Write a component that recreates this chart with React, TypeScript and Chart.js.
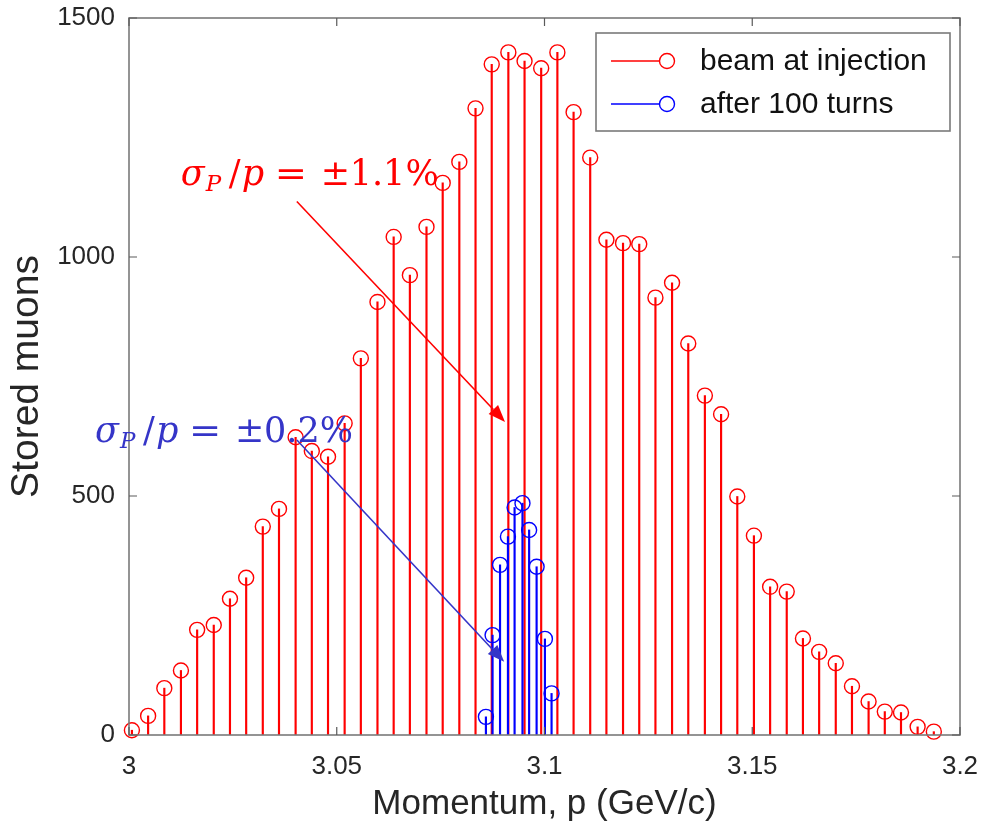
import React, { useEffect, useRef } from 'react';
import { Chart, registerables } from 'chart.js';

Chart.register(...registerables);

// ---- data ----
const momentumInjection = [
  3.0007, 3.0046, 3.0085, 3.0125, 3.0164, 3.0204, 3.0243, 3.0282, 3.0322, 3.0361,
  3.0401, 3.044, 3.0479, 3.0519, 3.0558, 3.0598, 3.0637, 3.0676, 3.0716, 3.0755,
  3.0795, 3.0834, 3.0873, 3.0913, 3.0952, 3.0992, 3.1031, 3.107, 3.111, 3.1149,
  3.1189, 3.1228, 3.1267, 3.1307, 3.1346, 3.1386, 3.1425, 3.1464, 3.1504, 3.1543,
  3.1583, 3.1622, 3.1661, 3.1701, 3.174, 3.178, 3.1819, 3.1858, 3.1898, 3.1937,
];
const countsInjection = [
  10, 40, 98, 135, 220, 230, 285, 329, 436, 473,
  623, 594, 582, 652, 788, 906, 1042, 962, 1063, 1155,
  1199, 1311, 1403, 1428, 1410, 1395, 1428, 1303, 1208, 1036,
  1029, 1027, 915, 946, 819, 710, 671, 499, 417, 310,
  300, 202, 174, 150, 102, 70, 49, 47, 17, 7,
];
const momentum100 = [3.0859, 3.0875, 3.0893, 3.0912, 3.0928, 3.0947, 3.0963, 3.0981, 3.1001, 3.1017];
const counts100 = [38, 209, 356, 415, 476, 485, 429, 352, 201, 87];

const xTickValues = [3, 3.05, 3.1, 3.15, 3.2];
const yTickValues = [0, 500, 1000, 1500];
const legendLabels = ['beam at injection', 'after 100 turns'];
const xTitle = 'Momentum, p (GeV/c)';
const yTitle = 'Stored muons';

const RED = '#ff0000';
const BLUE = '#0000ff';
const ANN_BLUE = '#3535c8';
const AXIS_GRAY = '#7a7a7a';
const TEXT_DARK = '#262626';
const SANS = "'Liberation Sans', Arial, sans-serif";
const SERIF = "'DejaVu Serif', 'Liberation Serif', serif";

const annotations = [
  { color: RED, value: '1.1%', x: 3.01245, y: 1151, from: [3.0404, 1116], to: [3.0905, 655] },
  { color: ANN_BLUE, value: '0.2%', x: 2.99182, y: 614, from: [3.0404, 617], to: [3.0903, 153] },
];

function drawMath(ctx: CanvasRenderingContext2D, x: number, y: number, color: string, value: string) {
  ctx.save();
  ctx.fillStyle = color;
  ctx.textBaseline = 'alphabetic';
  ctx.textAlign = 'left';
  ctx.font = `italic 35px ${SERIF}`;
  ctx.fillText('σ', x, y);
  ctx.font = `italic 23px ${SERIF}`;
  ctx.fillText('P', x + 25, y + 6);
  ctx.font = `35px ${SERIF}`;
  ctx.fillText('/', x + 48, y);
  ctx.font = `italic 35px ${SERIF}`;
  ctx.fillText('p', x + 61, y);
  ctx.font = `35px ${SERIF}`;
  ctx.save();
  ctx.translate(x + 94, y);
  ctx.scale(1.1, 1);
  ctx.fillText('=', 0, 0);
  ctx.restore();
  ctx.fillText('±', x + 140, y);
  ctx.fillText(value, x + 169, y);
  ctx.restore();
}

function drawArrow(ctx: CanvasRenderingContext2D, x1: number, y1: number, x2: number, y2: number, color: string) {
  const ang = Math.atan2(y2 - y1, x2 - x1);
  const len = 17;
  const hw = 6.5;
  ctx.save();
  ctx.strokeStyle = color;
  ctx.fillStyle = color;
  ctx.lineWidth = 1.6;
  const bx = x2 - Math.cos(ang) * len;
  const by = y2 - Math.sin(ang) * len;
  ctx.beginPath();
  ctx.moveTo(x1, y1);
  ctx.lineTo(bx, by);
  ctx.stroke();
  ctx.beginPath();
  ctx.moveTo(x2, y2);
  ctx.lineTo(bx + Math.sin(ang) * hw, by - Math.cos(ang) * hw);
  ctx.lineTo(bx - Math.sin(ang) * hw, by + Math.cos(ang) * hw);
  ctx.closePath();
  ctx.fill();
  ctx.restore();
}

const overlayPlugin = {
  id: 'overlay',
  afterDatasetsDraw(chart: any) {
    const { ctx, chartArea: ca, scales } = chart;
    const xs = scales.x;
    const ys = scales.y;
    ctx.save();
    ctx.strokeStyle = AXIS_GRAY;
    ctx.lineWidth = 1.6;
    ctx.strokeRect(ca.left, ca.top, ca.right - ca.left, ca.bottom - ca.top);
    const tl = 8;
    ctx.strokeStyle = '#5a5a5a';
    ctx.lineWidth = 1.2;
    ctx.beginPath();
    xTickValues.forEach((v) => {
      const px = xs.getPixelForValue(v);
      ctx.moveTo(px, ca.bottom);
      ctx.lineTo(px, ca.bottom - tl);
      ctx.moveTo(px, ca.top);
      ctx.lineTo(px, ca.top + tl);
    });
    yTickValues.forEach((v) => {
      const py = ys.getPixelForValue(v);
      ctx.moveTo(ca.left, py);
      ctx.lineTo(ca.left + tl, py);
      ctx.moveTo(ca.right, py);
      ctx.lineTo(ca.right - tl, py);
    });
    ctx.stroke();
    ctx.restore();
  },
  afterDraw(chart: any) {
    const { ctx, chartArea: ca, scales } = chart;
    const xs = scales.x;
    const ys = scales.y;

    annotations.forEach((a) => {
      drawMath(ctx, xs.getPixelForValue(a.x), ys.getPixelForValue(a.y), a.color, a.value);
      drawArrow(
        ctx,
        xs.getPixelForValue(a.from[0]), ys.getPixelForValue(a.from[1]),
        xs.getPixelForValue(a.to[0]), ys.getPixelForValue(a.to[1]),
        a.color,
      );
    });

    // legend
    const right = ca.right - 10;
    const top = ca.top + 15;
    const w = 354;
    const h = 98;
    const left = right - w;
    ctx.save();
    ctx.fillStyle = '#ffffff';
    ctx.fillRect(left, top, w, h);
    ctx.strokeStyle = AXIS_GRAY;
    ctx.lineWidth = 1.6;
    ctx.strokeRect(left, top, w, h);
    const colors = [RED, BLUE];
    legendLabels.forEach((label, i) => {
      const y = top + 28 + i * 43;
      ctx.strokeStyle = colors[i];
      ctx.lineWidth = 1.4;
      ctx.beginPath();
      ctx.moveTo(left + 15, y);
      ctx.lineTo(left + 64, y);
      ctx.stroke();
      ctx.beginPath();
      ctx.arc(left + 71, y, 7.5, 0, Math.PI * 2);
      ctx.stroke();
      ctx.fillStyle = '#111111';
      ctx.font = `30px ${SANS}`;
      ctx.textBaseline = 'middle';
      ctx.textAlign = 'left';
      ctx.fillText(label, left + 104, y + 1);
    });
    ctx.restore();
  },
};

export default function App() {
  const canvasRef = useRef<HTMLCanvasElement | null>(null);

  useEffect(() => {
    const canvas = canvasRef.current;
    if (!canvas) return;
    const toPoints = (xs: number[], ys: number[]) => xs.map((x, i) => ({ x, y: ys[i] }));

    const chart = new Chart(canvas, {
      type: 'scatter',
      data: {
        datasets: [
          {
            type: 'scatter',
            label: 'after 100 turns markers',
            data: toPoints(momentum100, counts100),
            pointStyle: 'circle',
            pointRadius: 7.5,
            pointBorderWidth: 1.4,
            pointBackgroundColor: 'rgba(0,0,0,0)',
            pointBorderColor: BLUE,
            clip: false,
            order: 0,
          } as any,
          {
            type: 'bar',
            label: 'after 100 turns',
            data: toPoints(momentum100, counts100),
            backgroundColor: BLUE,
            borderWidth: 0,
            barThickness: 1.5,
            grouped: false,
            order: 1,
          } as any,
          {
            type: 'scatter',
            label: 'beam at injection markers',
            data: toPoints(momentumInjection, countsInjection),
            pointStyle: 'circle',
            pointRadius: 7.5,
            pointBorderWidth: 1.4,
            pointBackgroundColor: 'rgba(0,0,0,0)',
            pointBorderColor: RED,
            clip: false,
            order: 2,
          } as any,
          {
            type: 'bar',
            label: 'beam at injection',
            data: toPoints(momentumInjection, countsInjection),
            backgroundColor: RED,
            borderWidth: 0,
            barThickness: 1.5,
            grouped: false,
            order: 3,
          } as any,
        ],
      },
      options: {
        responsive: false,
        animation: false,
        devicePixelRatio: 1,
        events: [],
        layout: { padding: { left: 0, right: 22, top: 18, bottom: 0 } },
        plugins: {
          legend: { display: false },
          tooltip: { enabled: false },
        },
        scales: {
          x: {
            type: 'linear',
            min: 3,
            max: 3.2,
            offset: false,
            grid: { display: false, drawTicks: false },
            border: { display: false },
            afterBuildTicks: (scale: any) => {
              scale.ticks = xTickValues.map((v) => ({ value: v }));
            },
            afterFit: (scale: any) => {
              scale.height = 98;
              scale.paddingLeft = 0;
              scale.paddingRight = 0;
            },
            ticks: {
              padding: 16,
              color: TEXT_DARK,
              font: { family: SANS, size: 26 },
              maxRotation: 0,
              callback: (v: any) => String(v),
            },
            title: {
              display: true,
              text: xTitle,
              color: TEXT_DARK,
              font: { family: SANS, size: 35 },
              padding: { top: 0, bottom: 8 },
            },
          },
          y: {
            type: 'linear',
            min: 0,
            max: 1500,
            grid: { display: false, drawTicks: false },
            border: { display: false },
            afterBuildTicks: (scale: any) => {
              scale.ticks = yTickValues.map((v) => ({ value: v }));
            },
            afterFit: (scale: any) => {
              scale.width = 129;
              scale.paddingTop = 0;
              scale.paddingBottom = 0;
            },
            ticks: {
              padding: 14,
              color: TEXT_DARK,
              font: { family: SANS, size: 26 },
              callback: (v: any) => String(v),
            },
            title: {
              display: true,
              text: yTitle,
              color: TEXT_DARK,
              font: { family: SANS, size: 39 },
              padding: { top: 4, bottom: 0 },
            },
          },
        },
      } as any,
      plugins: [overlayPlugin],
    });

    return () => {
      chart.destroy();
    };
  }, []);

  return (
    <div style={{ position: 'absolute', left: 0, top: 0, width: 982, height: 833, background: '#ffffff' }}>
      <canvas ref={canvasRef} width={982} height={833} style={{ display: 'block', width: 982, height: 833 }} />
    </div>
  );
}
